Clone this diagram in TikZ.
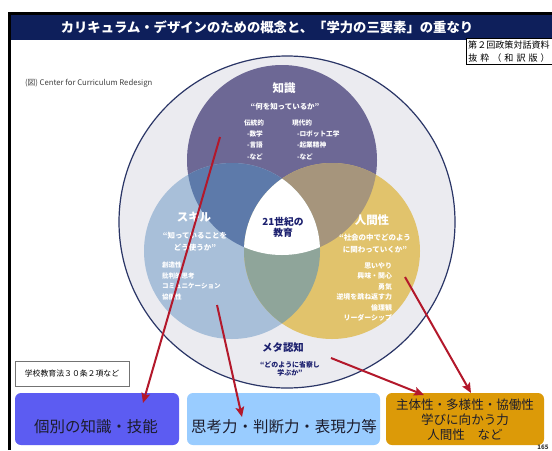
\documentclass[tikz,border=0pt]{standalone}
\usepackage{fontspec}
\setmainfont{Noto Sans CJK JP}
\usetikzlibrary{arrows.meta}
\definecolor{barnavy}{HTML}{0E1F5B}
\definecolor{outerfill}{HTML}{EBEBF0}
\definecolor{outerline}{HTML}{2A3566}
\definecolor{kcol}{HTML}{6D6895}
\definecolor{scol}{HTML}{A8BFD9}
\definecolor{hcol}{HTML}{E1C36C}
\definecolor{kscol}{HTML}{5D7AAA}
\definecolor{khcol}{HTML}{A6957C}
\definecolor{shcol}{HTML}{8FA59A}
\definecolor{navytxt}{HTML}{1B1F6E}
\definecolor{arrred}{HTML}{B3182B}
\definecolor{boxA}{HTML}{5C5CF2}
\definecolor{boxB}{HTML}{99CCFF}
\definecolor{boxC}{HTML}{DC9A08}
\definecolor{btxt}{HTML}{1C1C2C}
\begin{document}
\begin{tikzpicture}[x=0.75pt,y=-0.75pt,
  every node/.style={inner sep=0pt,outer sep=0pt},
  wtitle/.style={text=white,font=\fontsize{8.6}{10}\selectfont\bfseries},
  wquote/.style={text=white,font=\fontsize{5.6}{9}\selectfont\bfseries,align=center},
  wlist/.style={text=white,font=\fontsize{5.0}{7.8}\selectfont\bfseries,anchor=west},
  ntxt/.style={text=navytxt,font=\fontsize{7.3}{8.3}\selectfont\bfseries,align=center},
  bbox/.style={rounded corners=4.5pt,minimum height=39pt},
  btext/.style={text=btxt,font=\fontsize{11.6}{13}\selectfont},
  arr/.style={draw=arrred,line width=1.5pt,-{Stealth[length=7.5pt,width=6.5pt,inset=1.5pt]}}
]
\useasboundingbox (0,0) rectangle (552,450);
\fill[white] (0,0) rectangle (552,450);
% frame and title bar
\draw[line width=2.25pt] (9.5,450) -- (9.5,13.5) -- (552,13.5);
\fill[barnavy] (11,15) rectangle (552,40);
\node[text=white,font=\fontsize{10.0}{11}\selectfont\bfseries] (title) at (267,27.5)
  {カリキュラム・デザインのための概念と、「学力の三要素」の重なり};
% source box
\node[draw=black,line width=0.5pt,fill=white,minimum width=66pt,minimum height=19.5pt,anchor=north west] (src) at (466,38) {};
\node[font=\fontsize{6.8}{8}\selectfont] (src1) at (509,45.5) {第２回政策対話資料};
\node[font=\fontsize{6.8}{8}\selectfont] (src2) at (509,58) {\makebox[61pt][s]{抜\hfil 粋\hfil （\hfil 和\hfil 訳\hfil 版\hfil ）}};
\node[text=black!75,font=\fontsize{5.8}{7}\selectfont,anchor=west] (ccr) at (25,83) {(図) Center for Curriculum Redesign};
% outer ellipse
\filldraw[fill=outerfill,draw=outerline,line width=0.9pt] (287,222) ellipse [x radius=168,y radius=166];
% three circles
\fill[kcol] (282,160) circle [radius=95];
\fill[scol] (232,251) circle [radius=88];
\fill[hcol] (332,251) circle [radius=88];
\begin{scope}\clip (282,160) circle [radius=95]; \fill[kscol] (232,251) circle [radius=88]; \end{scope}
\begin{scope}\clip (282,160) circle [radius=95]; \fill[khcol] (332,251) circle [radius=88]; \end{scope}
\begin{scope}\clip (232,251) circle [radius=88]; \fill[shcol] (332,251) circle [radius=88]; \end{scope}
\begin{scope}\clip (282,160) circle [radius=95]; \clip (232,251) circle [radius=88]; \fill[white] (332,251) circle [radius=88]; \end{scope}
% knowledge texts
\node[wtitle] (kt) at (284,88) {知識};
\node[wquote] (kq) at (285,107) {“何を知っているか”};
\node[wlist] (k1) at (244,123) {伝統的};
\node[wlist] (k2) at (247,134) {-数学};
\node[wlist] (k3) at (247,145) {-言語};
\node[wlist] (k4) at (247,157) {-など};
\node[wlist] (k5) at (292,123) {現代的};
\node[wlist] (k6) at (297,134) {-ロボット工学};
\node[wlist] (k7) at (297,145) {-起業精神};
\node[wlist] (k8) at (297,157) {-など};
% skill texts
\node[wtitle] (st) at (194,217) {スキル};
\node[wquote] (sq) at (195,242) {“知っていることを\\どう使うか”};
\node[wlist,font=\fontsize{4.9}{7.8}\selectfont\bfseries] (s1) at (162,265) {創造性};
\node[wlist,font=\fontsize{4.9}{7.8}\selectfont\bfseries] (s2) at (162,276) {批判的思考};
\node[wlist,font=\fontsize{4.9}{7.8}\selectfont\bfseries] (s3) at (162,286) {コミュニケーション};
\node[wlist,font=\fontsize{4.9}{7.8}\selectfont\bfseries] (s4) at (162,297) {協働性};
% humanity texts
\node[wtitle] (ht) at (372,220) {人間性};
\node[wquote] (hq) at (375,244) {“社会の中でどのよう\\に関わっていくか”};
\node[text=white,font=\fontsize{5.2}{7.8}\selectfont\bfseries,align=right,anchor=east] (hl) at (392,292)
  {思いやり\\興味・関心\\勇気\\逆境を跳ね返す力\\倫理観\\リーダーシップ};
% center and meta
\node[ntxt] (c21) at (283,227) {21世紀の\\教育};
\node[ntxt,font=\fontsize{7.8}{9}\selectfont\bfseries] (mt) at (283,348) {メタ認知};
\node[ntxt,font=\fontsize{5.2}{6.4}\selectfont\bfseries] (mq) at (290,369) {“どのように省察し\\学ぶか”};
% school law box
\node[draw=black!55,line width=0.7pt,fill=white,minimum width=85.5pt,minimum height=18.75pt,font=\fontsize{5.9}{7}\selectfont] (law) at (72,373.5) {学校教育法３０条２項など};
% bottom boxes
\node[bbox,fill=boxA,minimum width=123pt] (bA) at (97,419) {};
\node[bbox,fill=boxB,minimum width=144.75pt] (bB) at (283.5,419) {};
\node[bbox,fill=boxC,minimum width=118.5pt] (bC) at (465,419) {};
\node[btext] (tA) at (96,427) {個別の知識・技能};
\node[btext] (tB) at (284,427) {思考力・判断力・表現力等};
\node[btext,font=\fontsize{9.4}{11.2}\selectfont,align=center] (tC) at (465,419.5) {主体性・多様性・協働性\\学びに向かう力\\人間性　など};
\node[font=\fontsize{4.6}{5}\selectfont\bfseries,text=black!80] (pg) at (543,447) {165};
% arrows
\coordinate (a1s) at (220,137); \coordinate (a1e) at (143,403);
\coordinate (a2s) at (217,305); \coordinate (a2e) at (242,417);
\coordinate (a3s) at (405,277); \coordinate (a3e) at (471,393);
\coordinate (a4s) at (331,358); \coordinate (a4e) at (424,395);
\draw[arr] (a1s) -- (a1e);
\draw[arr] (a2s) -- (a2e);
\draw[arr] (a3s) -- (a3e);
\draw[arr] (a4s) -- (a4e);
\end{tikzpicture}
\end{document}
